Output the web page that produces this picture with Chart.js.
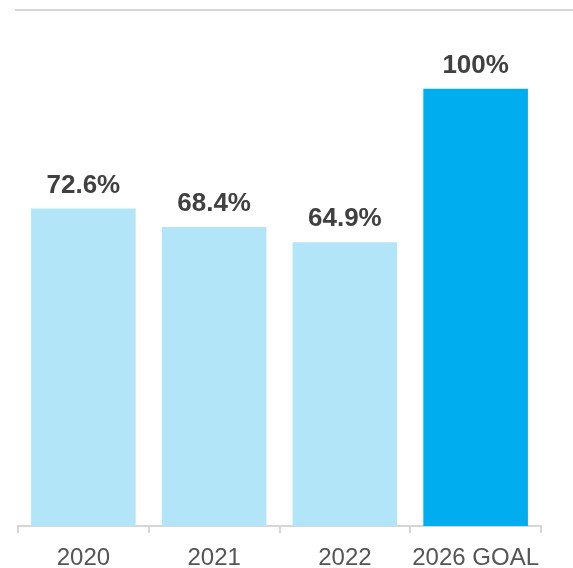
<!DOCTYPE html>
<html>
<head>
<meta charset="utf-8">
<script src="https://cdn.jsdelivr.net/npm/chart.js@4"></script>
<style>
  html, body { margin: 0; padding: 0; background: #fff; }
  #wrap { width: 573px; height: 568px; }
</style>
</head>
<body>
<div id="wrap"><canvas id="chart"></canvas></div>
<script>
// datos
const years = ['2020', '2021', '2022', '2026 GOAL'];
const rates = [72.6, 68.4, 64.9, 100];
const barColors = ['#b3e5f8', '#b3e5f8', '#b3e5f8', '#00aeef'];
const valueLabels = ['72.6%', '68.4%', '64.9%', '100%'];

// etiquetas encima de las barras
const valueLabelPlugin = {
  id: 'valueLabels',
  afterDatasetsDraw(chart) {
    const ctx = chart.ctx;
    const meta = chart.getDatasetMeta(0);
    ctx.save();
    ctx.font = 'bold 26px "Liberation Sans", Arial, sans-serif';
    ctx.fillStyle = '#404040';
    ctx.textAlign = 'center';
    ctx.textBaseline = 'alphabetic';
    meta.data.forEach((bar, i) => {
      ctx.fillText(valueLabels[i], bar.x, bar.y - 16);
    });
    ctx.restore();
  }
};

// linea gris de arriba
const topLinePlugin = {
  id: 'topLine',
  beforeDraw(chart) {
    const ctx = chart.ctx;
    ctx.save();
    ctx.strokeStyle = '#d6d6d6';
    ctx.lineWidth = 2;
    ctx.beginPath();
    ctx.moveTo(15, 10);
    ctx.lineTo(chart.width, 10);
    ctx.stroke();
    ctx.restore();
  }
};

new Chart(document.getElementById('chart'), {
  type: 'bar',
  data: {
    labels: years,
    datasets: [{
      data: rates,
      backgroundColor: barColors,
      categoryPercentage: 0.8,
      barPercentage: 1.0
    }]
  },
  options: {
    responsive: true,
    maintainAspectRatio: false,
    animation: false,
    layout: { padding: { left: 18, right: 32, top: 10, bottom: 0 } },
    plugins: {
      legend: { display: false },
      tooltip: { enabled: false }
    },
    scales: {
      x: {
        offset: true,
        afterFit(scale) { scale.height = 42; },
        grid: {
          offset: true,
          drawOnChartArea: false,
          drawTicks: true,
          tickLength: 7,
          color: '#d6d6d6',
          lineWidth: 2
        },
        border: { color: '#d6d6d6', width: 2 },
        ticks: {
          color: '#555555',
          padding: 11,
          maxRotation: 0,
          minRotation: 0,
          autoSkip: false,
          font: { family: '"Liberation Sans", Arial, sans-serif', size: 24 }
        }
      },
      y: {
        display: false,
        min: 0,
        max: 118
      }
    }
  },
  plugins: [valueLabelPlugin, topLinePlugin]
});
</script>
</body>
</html>
